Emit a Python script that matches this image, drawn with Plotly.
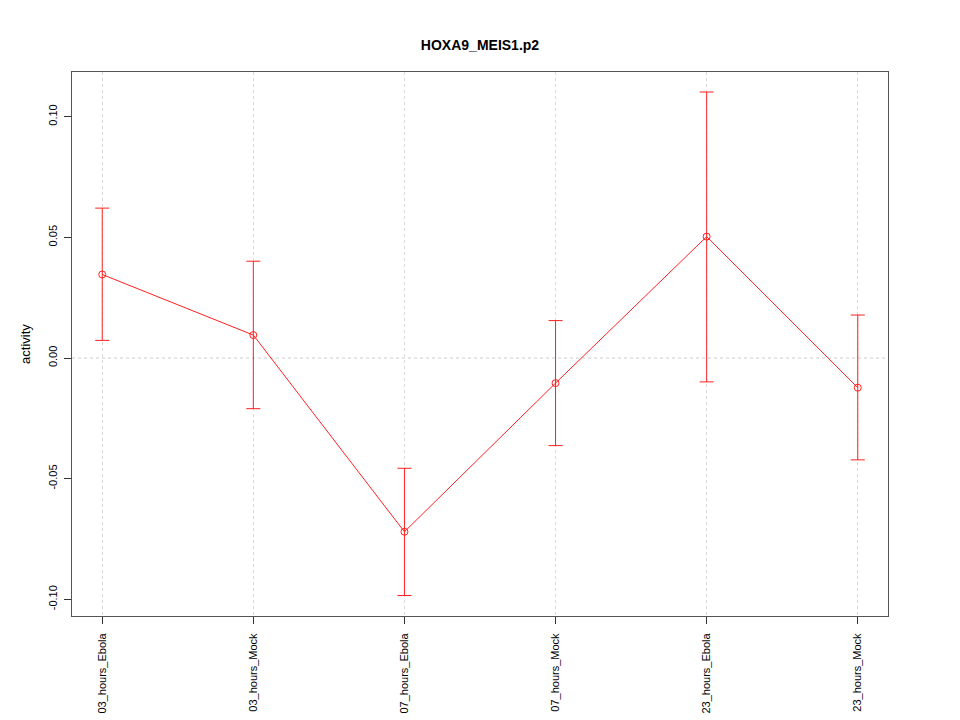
import plotly.graph_objects as go

categories = ["03_hours_Ebola", "03_hours_Mock", "07_hours_Ebola",
              "07_hours_Mock", "23_hours_Ebola", "23_hours_Mock"]
activity = [0.0346, 0.0095, -0.0720, -0.0104, 0.0503, -0.0123]
upper = [0.0621, 0.0401, -0.0457, 0.0155, 0.1102, 0.0178]
lower = [0.0073, -0.0210, -0.0984, -0.0363, -0.0099, -0.0422]

err_plus = [u - a for u, a in zip(upper, activity)]
err_minus = [a - l for a, l in zip(activity, lower)]
xi = list(range(len(categories)))

fig = go.Figure()
fig.add_hline(y=0, line=dict(color="#cccccc", width=1, dash="dot"), layer="below")
fig.add_trace(go.Scatter(
    x=xi, y=activity, mode="lines+markers",
    line=dict(color="#ff2020", width=1),
    marker=dict(symbol="circle-open", size=7, color="#ff2020", line=dict(width=1)),
    error_y=dict(type="data", symmetric=False, array=err_plus, arrayminus=err_minus,
                 color="#ff2020", thickness=1, width=7),
    showlegend=False,
))

fig.update_layout(
    width=960, height=720,
    paper_bgcolor="white", plot_bgcolor="white",
    margin=dict(l=64, r=80, t=64, b=112),
    title=dict(text="<b>HOXA9_MEIS1.p2</b>", x=(480 - 8) / 960, xanchor="center",
               y=1 - 37 / 720, yanchor="middle",
               font=dict(family="Liberation Sans, Arial", size=14, color="black")),
    font=dict(family="Liberation Sans, Arial", size=11, color="black"),
)
fig.update_xaxes(
    range=[-0.2, 5.2], tickmode="array", tickvals=xi, ticktext=categories,
    tickangle=-90, ticks="outside", ticklen=7, tickcolor="#333",
    ticklabelstandoff=5, automargin=False,
    showgrid=True, gridcolor="#d8d8d8", griddash="dot", gridwidth=1,
    showline=True, linecolor="#555", mirror=True, zeroline=False,
)
fig.update_yaxes(
    range=[-0.1069, 0.1185], tickvals=[-0.10, -0.05, 0.0, 0.05, 0.10],
    ticktext=["-0.10", "-0.05", "0.00", "0.05", "0.10"],
    tickangle=-90, ticks="outside", ticklen=7, tickcolor="#333",
    ticklabelstandoff=3, automargin=False,
    showgrid=False, zeroline=False,
    showline=True, linecolor="#555", mirror=True,
    title=dict(text="activity", standoff=13),
)

fig.write_html("out.html")
